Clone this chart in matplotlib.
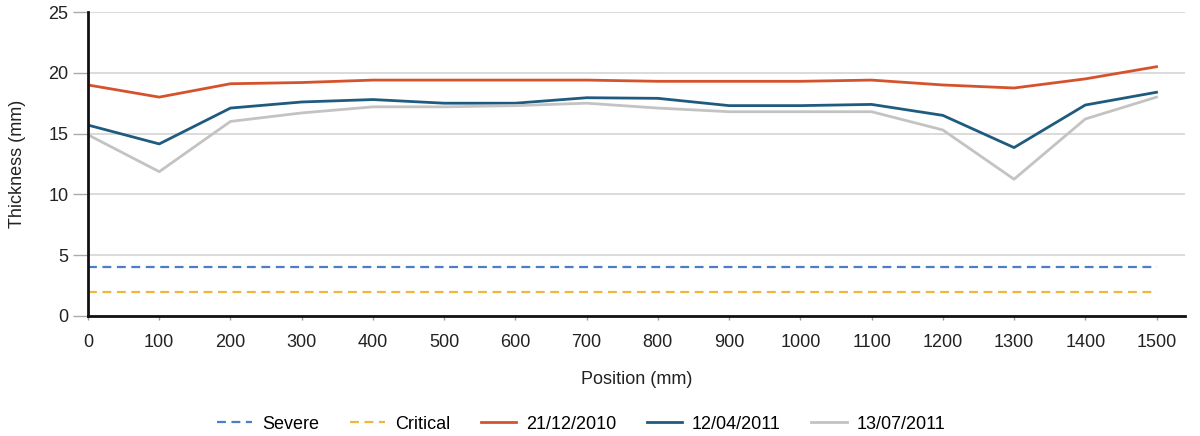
import matplotlib
matplotlib.use("Agg")
import matplotlib.pyplot as plt

plt.rcParams['font.family'] = ['Liberation Sans', 'DejaVu Sans']

positions = [0, 100, 200, 300, 400, 500, 600, 700, 800, 900, 1000, 1100, 1200, 1300, 1400, 1500]
thick_2010_12 = [19.0, 18.0, 19.1, 19.2, 19.4, 19.4, 19.4, 19.4, 19.3, 19.3, 19.3, 19.4, 19.0, 18.75, 19.5, 20.5]
thick_2011_04 = [15.7, 14.15, 17.1, 17.6, 17.8, 17.5, 17.5, 17.95, 17.9, 17.3, 17.3, 17.4, 16.5, 13.85, 17.35, 18.4]
thick_2011_07 = [14.9, 11.87, 16.0, 16.7, 17.2, 17.2, 17.3, 17.5, 17.1, 16.8, 16.8, 16.8, 15.3, 11.25, 16.2, 18.0]
severe_level = 4
critical_level = 2

fig = plt.figure(figsize=(12, 4.36), dpi=100)
ax = fig.add_axes([88 / 1200, 1 - 316 / 436, (1185 - 88) / 1200, (316 - 12) / 436])

ax.plot(positions, [severe_level] * len(positions), color='#4a7ec7', ls=(0, (4, 2.5)), lw=1.6, label='Severe')
ax.plot(positions, [critical_level] * len(positions), color='#f0b73c', ls=(0, (4, 2.5)), lw=1.6, label='Critical')
ax.plot(positions, thick_2010_12, color='#d5532c', lw=2, label='21/12/2010')
ax.plot(positions, thick_2011_04, color='#1e5b7e', lw=2, label='12/04/2011')
ax.plot(positions, thick_2011_07, color='#c3c3c3', lw=2, label='13/07/2011')

ax.set_xlim(0, 1540)
ax.set_ylim(0, 25)
ax.set_xticks(positions)
ax.set_yticks([0, 5, 10, 15, 20, 25])
ax.grid(axis='y', color='#d4d4d4', lw=1.2)
ax.set_axisbelow(True)

for s in ['top', 'right']:
    ax.spines[s].set_visible(False)
for s in ['left', 'bottom']:
    ax.spines[s].set_linewidth(2)
    ax.spines[s].set_color('#111111')

ax.tick_params(axis='x', labelsize=13, color='#999999', length=3, width=1, pad=10, labelcolor='#222222')
ax.tick_params(axis='y', labelsize=13, color='#aaaaaa', length=11, width=1, pad=3, labelcolor='#222222')

ax.set_xlabel('Position (mm)', fontsize=13, labelpad=14, color='#222222')
ax.set_ylabel('Thickness (mm)', fontsize=13, labelpad=16, color='#222222')

# legend sits under the axis label, centred a bit left of the figure middle
ax.legend(loc='center', bbox_to_anchor=(581 / 1200, 1 - 424 / 436), bbox_transform=fig.transFigure,
          ncol=5, frameon=False, fontsize=13, handlelength=1.95, handletextpad=0.55, columnspacing=1.7)

fig.savefig('out.png', dpi=100)
